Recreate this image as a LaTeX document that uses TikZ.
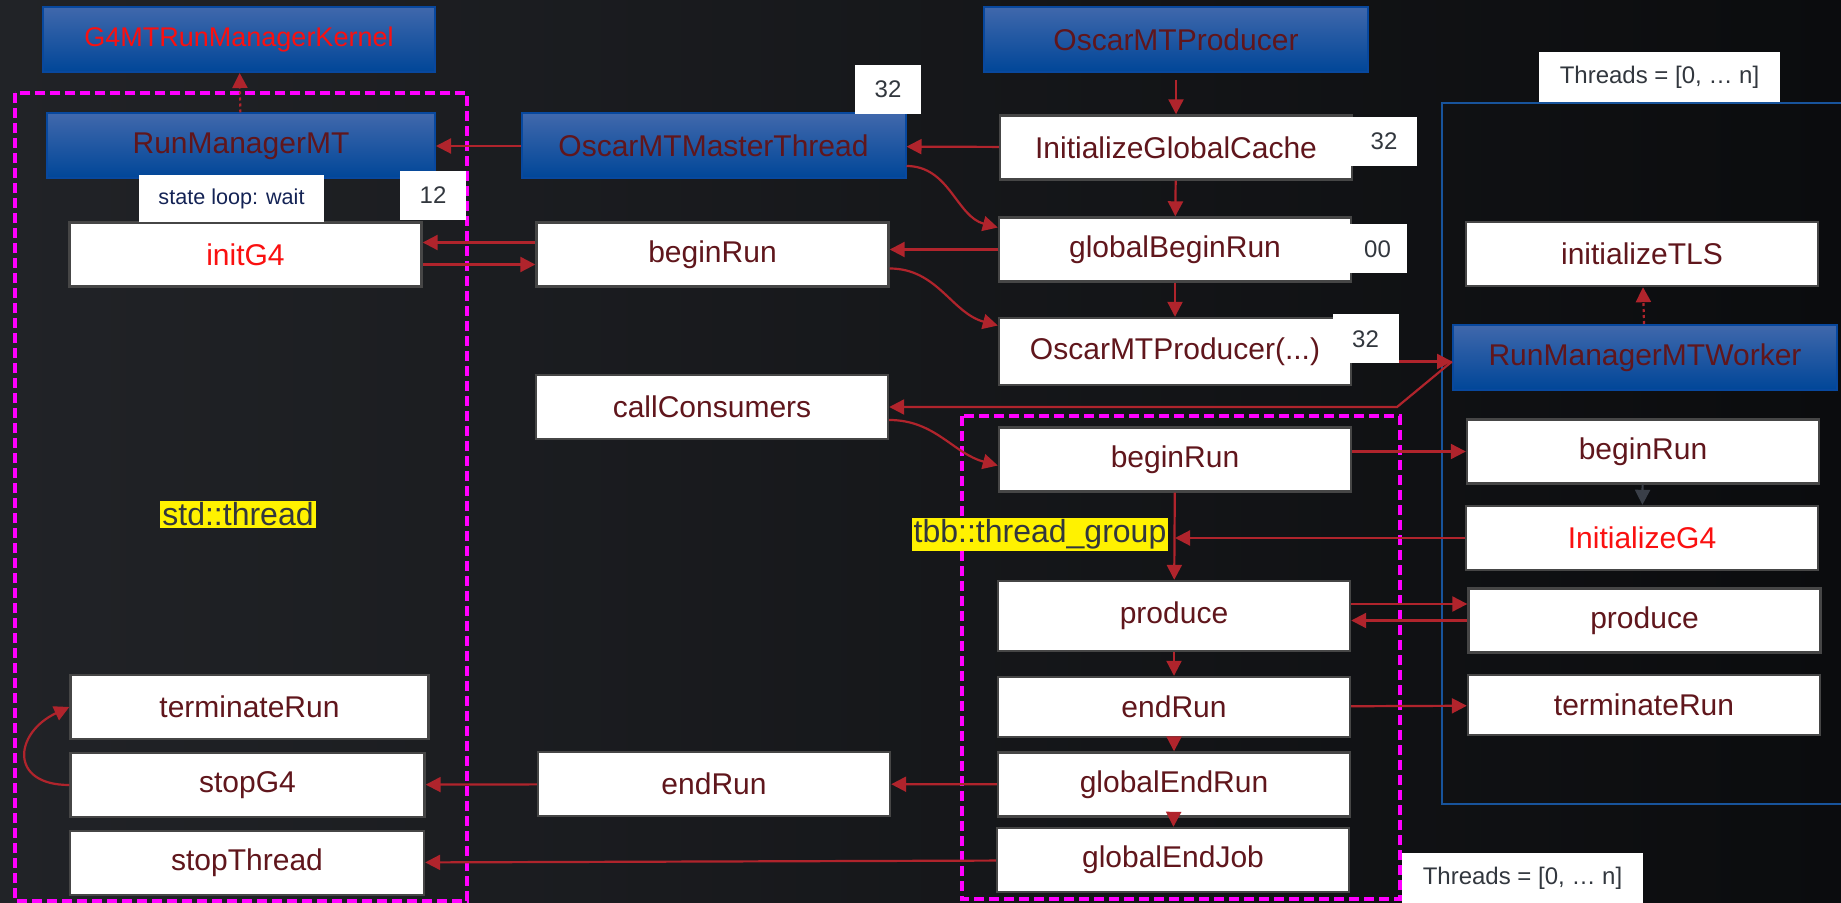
\documentclass[tikz,border=0pt]{standalone}
\usepackage{fontspec}
\setmainfont{Liberation Sans}
\usetikzlibrary{arrows.meta}
\definecolor{bgleft}{RGB}{33,35,39}
\definecolor{bgright}{RGB}{11,12,14}
\definecolor{clstop}{RGB}{64,104,172}
\definecolor{clsbot}{RGB}{0,70,152}
\definecolor{clsedge}{RGB}{8,72,158}
\definecolor{fntxt}{RGB}{96,22,28}
\definecolor{hot}{RGB}{250,16,16}
\definecolor{arrcol}{RGB}{176,36,44}
\definecolor{arrdark}{RGB}{58,63,72}
\definecolor{navy}{RGB}{20,35,85}
\definecolor{tagtxt}{RGB}{50,55,62}
\definecolor{frameblue}{RGB}{24,84,156}
\definecolor{grpcol}{RGB}{255,0,255}

\begin{document}
\begin{tikzpicture}[x=0.5pt, y=-0.5pt,
  cls/.style={draw=clsedge, line width=1pt, top color=clstop, bottom color=clsbot,
    minimum width=192pt, minimum height=32.5pt, inner sep=0pt, text=fntxt,
    font=\fontsize{15}{18}\selectfont},
  fn/.style={draw=gray!55!black, line width=1.2pt, fill=white, minimum width=176pt,
    minimum height=32pt, inner sep=0pt, text=fntxt, font=\fontsize{15}{18}\selectfont},
  tag/.style={fill=white, minimum width=33pt, minimum height=24.5pt, inner sep=0pt,
    text=tagtxt, font=\fontsize{12}{14}\selectfont},
  hl/.style={fill=yellow, inner sep=1pt, text=tagtxt, font=\fontsize{16}{18}\selectfont},
  arr/.style={draw=arrcol, line width=1.1pt, -{Triangle[length=7.5pt,width=7.5pt]}},
  grp/.style={draw=grpcol, line width=1.6pt, dash pattern=on 5pt off 2.5pt},
]
\useasboundingbox (0,0) rectangle (1841,903);
\shade[left color=bgleft, right color=bgright] (0,0) rectangle (1841,903);

\draw[frameblue, line width=1.4pt] (1442,103) rectangle (1870,804);
\draw[grp] (15,93) rectangle (467,901);
\draw[grp] (962,416) rectangle (1400,899);

\node[cls, minimum width=196pt, text=hot, font=\fontsize{13.5}{16}\selectfont] (kernel) at (239,39.5) {G4MTRunManagerKernel};
\node[cls, minimum width=194pt] (rmmt) at (241,146) {RunManagerMT};
\node[cls] (master) at (713.5,146) {OscarMTMasterThread};
\node[cls] (producer) at (1176,39.5) {OscarMTProducer};
\node[cls] (worker) at (1645,357.5) {RunManagerMTWorker};

\node[fn, text=hot] (initG4) at (245.5,254.5) {initG4};
\node[fn, minimum width=179pt] (termL) at (249.5,707) {terminateRun};
\node[fn, minimum width=177pt] (stopG4) at (247.5,785) {stopG4};
\node[fn, minimum width=177pt] (stopThr) at (247,863) {stopThread};
\node[fn] (beginM) at (712.5,254.5) {beginRun};
\node[fn] (callC) at (712,407) {callConsumers};
\node[fn] (endM) at (714,784) {endRun};
\node[fn] (initGC) at (1176,147.5) {InitializeGlobalCache};
\node[fn] (gbr) at (1175,249.5) {globalBeginRun};
\node[fn, minimum height=33.5pt] (omp) at (1175,351.5) {OscarMTProducer(...)};
\node[fn] (beginT) at (1175,459.5) {beginRun};
\node[fn, minimum height=35pt] (produceT) at (1174,616) {produce};
\node[fn, minimum height=30pt] (endT) at (1174,707) {endRun};
\node[fn] (gER) at (1174,784.5) {globalEndRun};
\node[fn] (gEJ) at (1173,860) {globalEndJob};
\node[fn] (tls) at (1642,254) {initializeTLS};
\node[fn] (beginW) at (1643,451.5) {beginRun};
\node[fn, text=hot] (initW) at (1642,538) {InitializeG4};
\node[fn] (produceW) at (1644.5,620.5) {produce};
\node[fn, minimum height=30pt] (termW) at (1644,705) {terminateRun};

\draw[arr, dash pattern=on 1.5pt off 1.5pt] (rmmt) -- (kernel);
\draw[arr, dash pattern=on 1.5pt off 1.5pt] (worker) -- (tls);
\draw[arr] (master) -- (rmmt);
\draw[arr] (initGC) -- (master);
\draw[arr, shorten <=3.5pt] (producer) -- (initGC);
\draw[arr] (initGC) -- (gbr);
\draw[arr] (gbr) -- (omp);
\draw[arr] ([yshift=-10pt]master.east) to[out=0, in=165] ([yshift=11pt]gbr.west);
\draw[arr] ([yshift=6pt]beginM.west) -- ([yshift=6pt]beginM.west -| initG4.east);
\draw[arr] ([yshift=-5pt]initG4.east) -- ([yshift=-5pt]initG4.east -| beginM.west);
\draw[arr] (gbr.west) -- (gbr.west -| beginM.east);
\draw[arr] ([yshift=-7pt]beginM.east) to[out=0, in=165] ([yshift=13pt]omp.west);
\draw[arr] ([yshift=-5pt]omp.east) -- ([yshift=-5pt]omp.east -| worker.west);
\coordinate (kink) at (1397,407);
\draw[arr] ([yshift=-2pt]worker.west) -- (kink) -- (callC.east);
\draw[arr] ([yshift=-6.5pt]callC.east) to[out=0, in=165] ([yshift=-3pt]beginT.west);
\draw[arr] (beginW.west -| beginT.east) -- (beginW.west);
\draw[arr, draw=arrdark] (beginW) -- (initW);
\draw[arr] (beginT) -- (produceT);
\draw[arr] (initW.west) -- (initW.west -| beginT.south);
\draw[arr] ([yshift=6pt]produceT.east) -- ([yshift=6pt]produceT.east -| produceW.west);
\draw[arr] (produceW.west) -- (produceW.west -| produceT.east);
\draw[arr] (produceT) -- (endT);
\draw[arr] (endT) -- (gER);
\draw[arr] (gER) -- (gEJ);
\draw[arr] (endT) -- (termW);
\draw[arr] (gER) -- (endM);
\draw[arr] (endM) -- (stopG4);
\draw[arr] (gEJ) -- (stopThr);
\draw[arr] (stopG4.west) to[out=180, in=205, looseness=2] (termL.west);

\node[tag] (tagA) at (888,89.5) {32};
\node[tag] (tagB) at (433,195.5) {12};
\node[tag] (tagC) at (1384,141.5) {32};
\node[tag, minimum width=29.5pt] (tagD) at (1377.5,249) {00};
\node[tag] (tagE) at (1365.5,339) {32};
\node[tag, minimum width=92.5pt, minimum height=23.5pt, text=navy, font=\fontsize{10.8}{13}\selectfont] (wait) at (231.5,198.5) {state loop: wait};
\node[tag, minimum width=120.5pt, minimum height=25pt] (thrTop) at (1659.5,77) {Threads = [0, … n]};
\node[tag, minimum width=120.5pt, minimum height=25pt] (thrBot) at (1522.5,878) {Threads = [0, … n]};

\node[hl] (stdthr) at (238,514.5) {std::thread};
\node[hl] (tbbgrp) at (1040,534.5) {tbb::thread\_group};
\end{tikzpicture}
\end{document}
